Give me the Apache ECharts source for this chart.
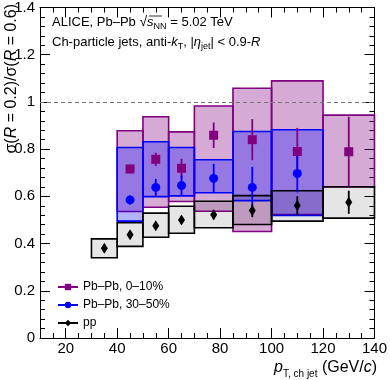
<!DOCTYPE html>
<html>
<head>
<meta charset="utf-8">
<script src="https://cdn.jsdelivr.net/npm/echarts@6/dist/echarts.min.js"></script>
<style>
html, body { margin: 0; padding: 0; background: #fff; }
#chart { width: 390px; height: 380px; }
</style>
</head>
<body>
<div id="chart"></div>
<script>
// pp reference
var ppBins = [[30, 40], [40, 50], [50, 60], [60, 70], [70, 85], [85, 100], [100, 120], [120, 140]];
var ppVal = [0.38, 0.437, 0.475, 0.50, 0.522, 0.54, 0.561, 0.575];
var ppStat = [0.008, 0.01, 0.01, 0.012, 0.02, 0.028, 0.04, 0.049];
var ppSysLo = [0.34, 0.388, 0.427, 0.444, 0.467, 0.481, 0.495, 0.508];
var ppSysHi = [0.42, 0.488, 0.529, 0.558, 0.579, 0.603, 0.624, 0.641];

// Pb-Pb 0-10%
var c010Bins = [[40, 50], [50, 60], [60, 70], [70, 85], [85, 100], [100, 120], [120, 140]];
var c010Val = [0.716, 0.757, 0.719, 0.859, 0.84, 0.79, 0.789];
var c010Stat = [0.018, 0.028, 0.04, 0.054, 0.087, 0.1, 0.148];
var c010SysLo = [0.536, 0.554, 0.578, 0.537, 0.451, 0.523, 0.64];
var c010SysHi = [0.878, 0.937, 0.873, 0.983, 1.058, 1.089, 0.944];

// Pb-Pb 30-50%
var c3050Bins = [[40, 50], [50, 60], [60, 70], [70, 85], [85, 100], [100, 120]];
var c3050Val = [0.585, 0.638, 0.646, 0.676, 0.638, 0.697];
var c3050Stat = [0.019, 0.036, 0.042, 0.062, 0.087, 0.08];
var c3050SysLo = [0.495, 0.599, 0.602, 0.615, 0.582, 0.519];
var c3050SysHi = [0.807, 0.831, 0.807, 0.755, 0.875, 0.882];

var xMajor = [20, 40, 60, 80, 100, 120, 140];

var chart = echarts.init(document.getElementById('chart'));

function center(b) { return (b[0] + b[1]) / 2; }

function boxData(bins, lo, hi) {
    return bins.map(function (b, i) { return [b[0], b[1], lo[i], hi[i]]; });
}
function errData(bins, val, err) {
    return bins.map(function (b, i) { return [center(b), val[i], err[i]]; });
}
function ptData(bins, val) {
    return bins.map(function (b, i) { return [center(b), val[i]]; });
}

function boxSeries(data, fill, stroke, z) {
    return {
        type: 'custom', z: z, silent: true,
        data: data,
        encode: { x: [0, 1], y: [2, 3] },
        renderItem: function (params, api) {
            var p1 = api.coord([api.value(0), api.value(3)]);
            var p2 = api.coord([api.value(1), api.value(2)]);
            return {
                type: 'rect',
                shape: { x: p1[0], y: p1[1], width: p2[0] - p1[0], height: p2[1] - p1[1] },
                style: { fill: fill, stroke: stroke, lineWidth: 1.6 }
            };
        }
    };
}

function errSeries(data, color, z) {
    return {
        type: 'custom', z: z, silent: true,
        data: data,
        encode: { x: 0, y: 1 },
        renderItem: function (params, api) {
            var x = api.value(0), y = api.value(1), e = api.value(2);
            var a = api.coord([x, y - e]);
            var b = api.coord([x, y + e]);
            return {
                type: 'line',
                shape: { x1: a[0], y1: a[1], x2: b[0], y2: b[1] },
                style: { stroke: color, lineWidth: 1.8 }
            };
        }
    };
}

function markerSeries(name, data, color, symbol, size, z) {
    return {
        name: name, type: 'line', z: z,
        data: data,
        symbol: symbol, symbolSize: size, showSymbol: true,
        itemStyle: { color: color },
        lineStyle: { color: color, opacity: 0 },
        emphasis: { disabled: true },
        clip: false
    };
}

var baseFont = 'Liberation Sans, Arial, sans-serif';

var option = {
    animation: false,
    textStyle: { fontFamily: baseFont },
    grid: { left: 40, right: 13, top: 6, bottom: 42 },
    xAxis: [
        {
            type: 'value', min: 10, max: 140, position: 'bottom',
            axisLine: { lineStyle: { color: '#000', width: 1 } },
            axisTick: { inside: true, length: 10, customValues: xMajor, lineStyle: { color: '#000' } },
            axisLabel: { customValues: xMajor, color: '#000', fontSize: 15, margin: 3 },
            splitLine: { show: false }
        },
        {
            type: 'value', min: 10, max: 140, interval: 5, position: 'bottom',
            axisLine: { show: false },
            axisTick: { inside: true, length: 5, lineStyle: { color: '#000' } },
            axisLabel: { show: false }, splitLine: { show: false }
        },
        {
            type: 'value', min: 10, max: 140, position: 'top',
            axisLine: { lineStyle: { color: '#000', width: 1 } },
            axisTick: { inside: true, length: 10, customValues: xMajor, lineStyle: { color: '#000' } },
            axisLabel: { show: false }, splitLine: { show: false }
        },
        {
            type: 'value', min: 10, max: 140, interval: 5, position: 'top',
            axisLine: { show: false },
            axisTick: { inside: true, length: 5, lineStyle: { color: '#000' } },
            axisLabel: { show: false }, splitLine: { show: false }
        }
    ],
    yAxis: [
        {
            type: 'value', min: 0, max: 1.4, interval: 0.2, position: 'left',
            axisLine: { show: true, lineStyle: { color: '#000', width: 1 } },
            axisTick: { inside: true, length: 10, lineStyle: { color: '#000' } },
            minorTick: { show: true, splitNumber: 5, length: 5, lineStyle: { color: '#000' } },
            axisLabel: { color: '#000', fontSize: 15, margin: 5 },
            splitLine: { show: false }
        },
        {
            type: 'value', min: 0, max: 1.4, interval: 0.2, position: 'right',
            axisLine: { show: true, lineStyle: { color: '#000', width: 1 } },
            axisTick: { inside: true, length: 10, lineStyle: { color: '#000' } },
            minorTick: { show: true, splitNumber: 5, length: 5, lineStyle: { color: '#000' } },
            axisLabel: { show: false },
            splitLine: { show: false }
        }
    ],
    legend: {
        orient: 'vertical', left: 52, top: 276,
        itemWidth: 20, itemHeight: 8, itemGap: 6,
        textStyle: { fontSize: 12, color: '#000', fontFamily: baseFont },
        lineStyle: { opacity: 1, width: 2 },
        data: ['Pb–Pb, 0–10%', 'Pb–Pb, 30–50%', 'pp']
    },
    series: [
        boxSeries(boxData(c010Bins, c010SysLo, c010SysHi), 'rgba(128,0,128,0.33)', '#800080', 2),
        boxSeries(boxData(c3050Bins, c3050SysLo, c3050SysHi), 'rgba(0,0,255,0.30)', '#0000ff', 3),
        boxSeries(boxData(ppBins, ppSysLo, ppSysHi), 'rgba(0,0,0,0.10)', '#000', 4),
        {
            type: 'line', data: [], z: 5, silent: true,
            markLine: {
                silent: true, symbol: 'none', label: { show: false },
                lineStyle: { color: '#777', type: [4, 3], width: 1 },
                data: [{ yAxis: 1 }]
            }
        },
        errSeries(errData(c010Bins, c010Val, c010Stat), '#800080', 6),
        errSeries(errData(c3050Bins, c3050Val, c3050Stat), '#0000ff', 6),
        errSeries(errData(ppBins, ppVal, ppStat), '#000', 6),
        markerSeries('Pb–Pb, 0–10%', ptData(c010Bins, c010Val), '#800080', 'rect', 9, 7),
        markerSeries('Pb–Pb, 30–50%', ptData(c3050Bins, c3050Val), '#0000ff', 'circle', 9, 7),
        markerSeries('pp', ptData(ppBins, ppVal), '#000', 'diamond', [7, 11], 7)
    ],
    graphic: [
        {
            type: 'text', left: 52, top: 13, z: 20,
            style: {
                text: 'ALICE, Pb–Pb {sq|√}{it|s}{sub|NN} = 5.02 TeV',
                fontSize: 13, fontFamily: baseFont, fill: '#000', lineHeight: 18,
                rich: {
                    sq: { fontSize: 14, lineHeight: 18 },
                    it: { fontStyle: 'italic', fontSize: 13, lineHeight: 18 },
                    sub: { fontSize: 9, lineHeight: 9, verticalAlign: 'bottom' }
                }
            }
        },
        {
            type: 'line', z: 20,
            shape: { x1: 149, y1: 16, x2: 162, y2: 16 },
            style: { stroke: '#000', lineWidth: 0.8 }
        },
        {
            type: 'text', left: 52, top: 33, z: 20,
            style: {
                text: 'Ch-particle jets, anti-{it|k}{sub|T}, |{it|η}{sub|jet}| < 0.9-{it|R}',
                fontSize: 13, fontFamily: baseFont, fill: '#000', lineHeight: 18,
                rich: {
                    it: { fontStyle: 'italic', fontSize: 13, lineHeight: 18 },
                    sub: { fontSize: 9, lineHeight: 9, verticalAlign: 'bottom' }
                }
            }
        },
        {
            type: 'text', x: 12, y: 4, rotation: Math.PI / 2, z: 20,
            style: {
                text: 'σ({it|R} = 0.2)/σ({it|R} = 0.6)',
                fontSize: 16, fontFamily: baseFont, fill: '#000',
                align: 'right', verticalAlign: 'middle',
                rich: { it: { fontStyle: 'italic', fontSize: 16 } }
            }
        },
        {
            type: 'text', right: 13, top: 357, z: 20,
            style: {
                text: '{it|p}{sub|T, ch jet} (GeV/{it|c})',
                fontSize: 16, fontFamily: baseFont, fill: '#000', lineHeight: 22,
                rich: {
                    it: { fontStyle: 'italic', fontSize: 16, lineHeight: 22 },
                    sub: { fontSize: 10, lineHeight: 10, verticalAlign: 'bottom' }
                }
            }
        }
    ]
};

chart.setOption(option);
</script>
</body>
</html>
